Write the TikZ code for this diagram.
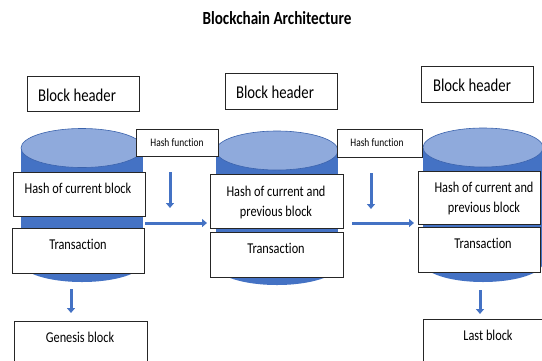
\documentclass[tikz,border=0pt]{standalone}
\usepackage{fontspec}
\setmainfont{Carlito}
\newfontfamily\cond[FakeStretch=0.82,Ligatures={NoCommon}]{Carlito}
\usetikzlibrary{arrows.meta}
\definecolor{cylbody}{HTML}{4472C4}
\definecolor{cyltop}{HTML}{8FAADC}
\definecolor{cyledge}{HTML}{3A62AC}
\tikzset{
  boxstyle/.style={draw=black!85, line width=0.9pt, fill=white, inner sep=0pt, anchor=north west},
  lbl/.style={font=\cond\fontsize{15}{20}\selectfont, inner sep=0pt, align=center},
  hdrlbl/.style={font=\cond\fontsize{18}{22}\selectfont, inner sep=0pt},
  hflbl/.style={font=\cond\fontsize{11.5}{13}\selectfont, inner sep=0pt},
  flow/.style={draw=cylbody, line width=3pt, -{Triangle[length=5pt,width=8pt]}},
}
\newcommand{\cyl}[4]{% cx, top cy, bottom cy, rx
  \fill[cylbody] (#1-#4,#2) rectangle (#1+#4,#3);
  \fill[cylbody] (#1,#3) ellipse [x radius=#4, y radius=19.5];
  \filldraw[fill=cyltop, draw=cyledge, line width=0.6pt] (#1,#2) ellipse [x radius=#4, y radius=19.5];
}
\begin{document}
\begin{tikzpicture}[x=1pt,y=-1pt]
\useasboundingbox (0,0) rectangle (542,360);
\clip (0,0) rectangle (542,360);
\fill[white] (0,0) rectangle (542,360);

% title
\node[font=\cond\bfseries\fontsize{18.5}{22}\selectfont, inner sep=0pt] (title) at (277,18) {Blockchain Architecture};

% cylinders
\cyl{82}{148}{262.5}{61}
\cyl{277}{150.5}{265.5}{61}
\cyl{483}{147.5}{262.5}{60}

% block headers
\node[boxstyle, minimum width=112pt, minimum height=35pt] (bh1) at (27,76) {};
\node[hdrlbl] (bh1t) at (77,95) {Block header};
\node[boxstyle, minimum width=112pt, minimum height=36pt] (bh2) at (225,73) {};
\node[hdrlbl] (bh2t) at (275,92) {Block header};
\node[boxstyle, minimum width=112pt, minimum height=36pt] (bh3) at (421,66) {};
\node[hdrlbl] (bh3t) at (472,85) {Block header};

% hash function boxes
\node[boxstyle, minimum width=82pt, minimum height=27pt] (hf1) at (136,129) {};
\node[hflbl] (hf1t) at (177,143) {Hash function};
\node[boxstyle, minimum width=85pt, minimum height=28pt] (hf2) at (337,129) {};
\node[hflbl] (hf2t) at (377,143) {Hash function};

% hash boxes
\node[boxstyle, minimum width=132pt, minimum height=44pt] (h1) at (13,172) {};
\node[lbl] (h1t) at (78,188) {Hash of current block};
\node[boxstyle, minimum width=133pt, minimum height=54pt] (h2) at (210,174) {};
\node[lbl] (h2t) at (276,202) {Hash of current and\\previous block};
\node[boxstyle, minimum width=122pt, minimum height=53pt] (h3) at (418,171) {};
\node[lbl] (h3t) at (484,198) {Hash of current and\\previous block};

% transaction boxes
\node[boxstyle, minimum width=132pt, minimum height=45pt] (t1) at (12,228) {};
\node[lbl] (t1t) at (78,244) {Transaction};
\node[boxstyle, minimum width=133pt, minimum height=45pt] (t2) at (210,232) {};
\node[lbl] (t2t) at (276,248) {Transaction};
\node[boxstyle, minimum width=122pt, minimum height=45pt] (t3) at (418,227) {};
\node[lbl] (t3t) at (483,243) {Transaction};

% genesis / last
\node[boxstyle, minimum width=133pt, minimum height=50pt] (gen) at (14,321) {};
\node[lbl] (gent) at (80,337) {Genesis block};
\node[boxstyle, minimum width=119pt, minimum height=50pt] (last) at (423,319) {};
\node[lbl] (lastt) at (488,335) {Last block};

% arrows
\coordinate (d1s) at (170,172); \coordinate (d1e) at (170,208);
\coordinate (d2s) at (371,173); \coordinate (d2e) at (371,209);
\coordinate (r1s) at (145,223); \coordinate (r1e) at (207,223);
\coordinate (r2s) at (352,223); \coordinate (r2e) at (414,223);
\coordinate (g1s) at (71,289); \coordinate (g1e) at (71,313);
\coordinate (g2s) at (480,290); \coordinate (g2e) at (480,314);
\draw[flow] (d1s) -- (d1e);
\draw[flow] (d2s) -- (d2e);
\draw[flow] (r1s) -- (r1e);
\draw[flow] (r2s) -- (r2e);
\draw[flow] (g1s) -- (g1e);
\draw[flow] (g2s) -- (g2e);
\end{tikzpicture}
\end{document}
